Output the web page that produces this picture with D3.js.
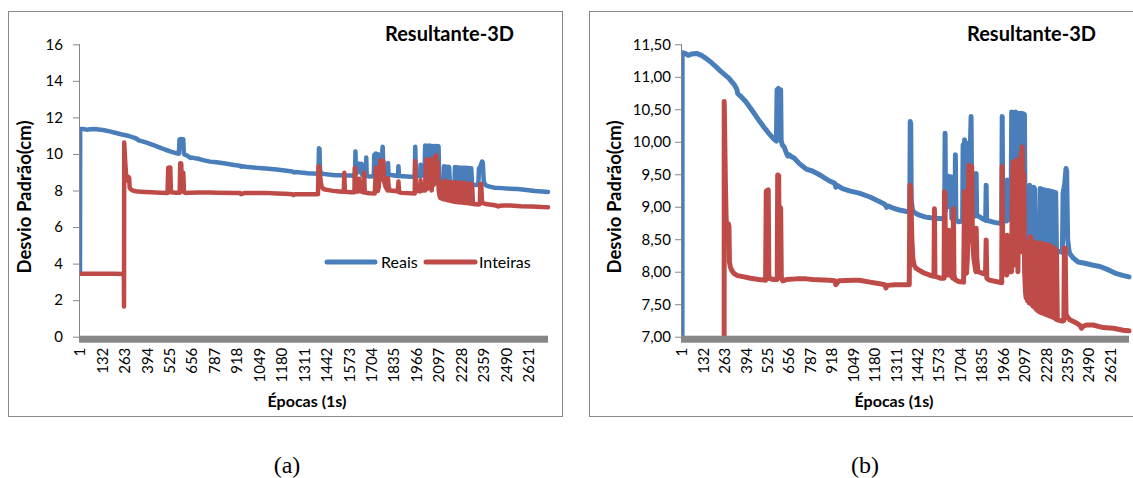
<!DOCTYPE html>
<html>
<head>
<meta charset="utf-8">
<script src="https://cdn.jsdelivr.net/npm/d3@7"></script>
<style>
  html, body { margin: 0; padding: 0; background: #fff; overflow: hidden; }
  svg text { font-family: Lato, "Open Sans", sans-serif; fill: #000; }
</style>
</head>
<body>
<svg id="fig" width="1133" height="478"></svg>
<script>
// Epoch labels shown along the category axis
const xTickLabels = [1, 132, 263, 394, 525, 656, 787, 918, 1049, 1180, 1311, 1442,
                     1573, 1704, 1835, 1966, 2097, 2228, 2359, 2490, 2621];
const lastEpoch = 2733;

// Y-axis ticks for the full view and the zoomed view
const yTicksA = [0, 2, 4, 6, 8, 10, 12, 14, 16];
const yTicksB = [7, 7.5, 8, 8.5, 9, 9.5, 10, 10.5, 11, 11.5];

const seriesNames = ["Reais", "Inteiras"];
const seriesColors = ["#4A7EBB", "#BE4B48"];

// Standard deviation (cm) per epoch: [epoch, value]
const reais = [
  [1,3.45],[2,11.37],[20,11.36],[40,11.33],[60,11.35],[90,11.36],[120,11.33],[150,11.28],
  [180,11.22],[206,11.16],[240,11.08],[287,10.98],[320,10.88],[336,10.81],[342,10.74],[360,10.70],
  [390,10.62],[430,10.48],[471,10.33],[500,10.23],[532,10.13],[560,10.05],[578,10.01],[582,10.80],
  [590,10.82],[598,10.78],[604,10.80],[607,10.02],[614,9.95],[625,9.92],[640,9.82],[648,9.78],
  [655,9.80],[670,9.77],[686,9.75],[720,9.66],[760,9.58],[798,9.55],[850,9.48],[900,9.40],
  [935,9.36],[941,9.30],[950,9.33],[982,9.28],[1030,9.24],[1084,9.21],[1150,9.15],[1207,9.08],
  [1240,9.04],[1252,8.99],[1262,9.01],[1290,8.98],[1329,8.95],[1390,8.92],[1393,8.93],[1396,10.31],
  [1399,10.28],[1402,9.10],[1410,8.95],[1420,8.91],[1452,8.87],[1490,8.84],[1520,8.83],[1545,8.82],
  [1580,8.82],[1606,8.81],[1609,10.13],[1612,8.95],[1616,9.46],[1624,9.00],[1630,9.47],[1638,9.00],
  [1645,9.46],[1650,8.82],[1670,8.80],[1672,9.80],[1675,8.80],[1690,8.77],[1716,8.78],[1719,9.95],
  [1724,9.10],[1728,10.03],[1733,9.30],[1740,9.98],[1746,9.20],[1752,9.70],[1758,9.30],[1765,10.10],
  [1768,10.39],[1772,9.00],[1776,8.88],[1797,8.86],[1799,9.51],[1802,8.87],[1835,8.82],[1857,8.79],
  [1860,9.33],[1863,8.79],[1910,8.76],[1955,8.74],[1958,10.39],[1962,8.80],[1986,8.78],[1989,9.41],
  [1992,8.80],[2012,8.82],[2016,10.46],[2022,9.00],[2028,10.45],[2034,9.00],[2040,10.46],[2046,9.10],
  [2052,10.44],[2058,9.00],[2064,10.44],[2070,9.10],[2076,10.44],[2082,9.00],[2088,10.43],[2094,10.42],
  [2098,8.60],[2104,8.48],[2120,8.42],[2123,8.45],[2126,9.33],[2131,8.45],[2138,9.30],[2144,8.45],
  [2150,9.30],[2156,9.28],[2160,8.42],[2187,8.38],[2190,9.28],[2196,8.40],[2202,9.27],[2208,8.38],
  [2214,9.26],[2220,8.36],[2228,9.25],[2234,8.36],[2240,9.25],[2246,8.35],[2252,9.24],[2259,9.24],
  [2264,8.34],[2270,9.23],[2276,8.33],[2285,9.22],[2290,8.32],[2326,8.30],[2330,9.21],[2340,9.35],
  [2348,9.59],[2352,9.55],[2358,8.50],[2366,8.33],[2371,8.28],[2392,8.21],[2422,8.15],[2463,8.13],
  [2514,8.10],[2555,8.08],[2596,8.04],[2657,7.97],[2700,7.94],[2733,7.92]
];

const inteiras = [
  [1,3.45],[100,3.45],[200,3.44],[257,3.43],[258,1.65],[259,10.62],[262,10.10],[266,9.40],
  [270,8.90],[275,8.55],[280,8.60],[284,8.74],[288,8.70],[291,8.15],[296,8.08],[305,8.02],
  [320,7.97],[340,7.94],[380,7.92],[420,7.90],[470,7.88],[512,7.87],[516,9.24],[528,9.26],
  [532,7.90],[560,7.88],[583,7.88],[586,9.49],[592,9.48],[596,7.95],[600,8.99],[604,8.98],
  [608,7.92],[616,7.86],[640,7.88],[700,7.89],[760,7.89],[800,7.88],[900,7.87],[935,7.86],
  [941,7.80],[950,7.83],[960,7.86],[1050,7.87],[1084,7.87],[1150,7.84],[1200,7.82],[1240,7.80],
  [1248,7.75],[1256,7.79],[1300,7.80],[1390,7.80],[1394,9.33],[1398,9.30],[1402,8.90],[1406,8.50],
  [1412,8.20],[1420,8.10],[1432,8.05],[1452,8.02],[1480,7.98],[1513,7.95],[1541,7.93],[1544,8.97],
  [1547,7.93],[1580,7.90],[1603,7.90],[1605,9.23],[1608,9.20],[1612,7.95],[1628,7.95],[1631,8.64],
  [1636,8.10],[1642,7.95],[1657,7.90],[1660,8.97],[1663,7.95],[1670,7.88],[1690,7.85],[1722,7.84],
  [1725,8.50],[1728,9.23],[1732,8.00],[1740,7.98],[1745,8.20],[1754,9.64],[1760,8.60],[1766,9.10],
  [1772,9.62],[1776,8.50],[1785,8.20],[1797,8.00],[1799,8.67],[1803,8.20],[1810,8.00],[1856,7.96],
  [1860,8.49],[1864,7.90],[1880,7.87],[1955,7.83],[1958,9.62],[1962,8.00],[1986,7.95],[1989,8.56],
  [1993,8.00],[2015,8.00],[2020,9.30],[2024,9.69],[2030,8.10],[2036,9.65],[2042,8.20],[2048,9.72],
  [2054,8.00],[2060,9.70],[2066,8.30],[2072,9.80],[2078,9.85],[2081,9.92],[2086,8.40],[2090,9.50],
  [2095,8.00],[2100,7.70],[2104,7.60],[2108,8.30],[2113,7.55],[2118,8.45],[2123,7.52],[2128,8.50],
  [2132,8.54],[2136,7.50],[2141,8.46],[2146,7.47],[2151,8.46],[2156,7.45],[2161,8.45],[2166,7.42],
  [2171,8.44],[2176,7.40],[2181,8.44],[2186,7.38],[2191,8.44],[2196,7.37],[2201,8.43],[2206,7.36],
  [2211,8.43],[2216,7.35],[2221,8.42],[2226,7.34],[2231,8.41],[2236,7.33],[2241,8.41],[2246,7.32],
  [2251,8.40],[2256,7.31],[2261,8.39],[2266,7.30],[2271,8.37],[2276,7.29],[2281,8.35],[2286,7.27],
  [2290,8.33],[2295,7.26],[2325,7.24],[2335,7.25],[2338,8.36],[2343,8.36],[2348,7.35],[2355,7.31],
  [2371,7.26],[2412,7.21],[2435,7.17],[2443,7.13],[2452,7.16],[2473,7.18],[2514,7.18],[2575,7.14],
  [2637,7.13],[2698,7.10],[2733,7.09]
];

const seriesData = [reais, inteiras];

const svg = d3.select("#fig");
const axisGrey = "#878787";

function drawPanel(p) {
  const g = svg.append("g");

  // chart-area border
  g.append("rect")
    .attr("x", p.frame.x + 0.5).attr("y", p.frame.y + 0.5)
    .attr("width", p.frame.w).attr("height", p.frame.h)
    .attr("fill", "#fff").attr("stroke", "#8a8a8a").attr("stroke-width", 1);

  const x = d3.scaleLinear().domain([1, lastEpoch]).range([p.left, p.right]);
  const y = d3.scaleLinear().domain(p.yDomain).range([p.bottom, p.top]);

  // y axis
  const yAxis = d3.axisLeft(y).tickValues(p.yTicks).tickSize(7).tickPadding(p.tickPad)
    .tickFormat(p.fmt);
  const ya = g.append("g").attr("transform", `translate(${p.left},0)`).call(yAxis);
  ya.select(".domain").attr("stroke", axisGrey).attr("d", `M-0.5,${p.top}V${p.bottom}`);
  ya.selectAll(".tick line").attr("stroke", axisGrey);
  ya.selectAll("text").style("font-size", p.tickFont + "px").attr("fill", "#000")
    .style("font-family", "Lato, sans-serif");

  // series lines, clipped to the plot area
  const clipId = "clip-" + p.id;
  g.append("clipPath").attr("id", clipId).append("rect")
    .attr("x", p.left).attr("y", p.top - 10)
    .attr("width", p.right - p.left + 4).attr("height", p.bottom - p.top + 10);
  const line = d3.line().x(d => x(d[0])).y(d => y(d[1]));
  const lg = g.append("g").attr("clip-path", `url(#${clipId})`);
  seriesData.forEach((s, i) => {
    lg.append("path").datum(s)
      .attr("d", line)
      .attr("fill", "none")
      .attr("stroke", seriesColors[i])
      .attr("stroke-width", p.lineW)
      .attr("stroke-linejoin", "round")
      .attr("stroke-linecap", "round");
  });

  // category axis: thick grey bar
  g.append("rect")
    .attr("x", p.left - 1).attr("y", p.bottom - 1)
    .attr("width", p.right - p.left + 1).attr("height", 7)
    .attr("fill", axisGrey);

  // epoch labels, rotated
  g.append("g").selectAll("text").data(xTickLabels).join("text")
    .attr("transform", d => `translate(${x(d)},${p.bottom + 11}) rotate(-90)`)
    .attr("text-anchor", "end")
    .attr("dy", "0.35em")
    .style("font-size", p.tickFont + "px")
    .text(d => d);

  // axis titles
  g.append("text")
    .attr("transform", `translate(${p.yTitleX},${p.yTitleY}) rotate(-90)`)
    .attr("text-anchor", "middle").attr("dy", "0.35em")
    .style("font-size", "18.5px").style("font-weight", "bold")
    .text("Desvio Padrão(cm)");
  g.append("text")
    .attr("x", p.xTitleX).attr("y", 407)
    .attr("text-anchor", "middle")
    .style("font-size", "16px").style("font-weight", "bold")
    .text("Épocas (1s)");

  // chart title
  g.append("text")
    .attr("x", p.titleX).attr("y", 41)
    .style("font-size", "20px").style("font-weight", "bold")
    .text("Resultante-3D");

  // legend
  if (p.legend) {
    const items = [
      { x1: 327, x2: 375, tx: 381 },
      { x1: 426, x2: 475, tx: 479 }
    ];
    items.forEach((it, i) => {
      g.append("line")
        .attr("x1", it.x1).attr("x2", it.x2).attr("y1", 262).attr("y2", 262)
        .attr("stroke", seriesColors[i]).attr("stroke-width", 5)
        .attr("stroke-linecap", "round");
      g.append("text")
        .attr("x", it.tx).attr("y", 262).attr("dy", "0.35em")
        .style("font-size", "16px")
        .text(seriesNames[i]);
    });
  }

  // panel caption
  svg.append("text")
    .attr("x", p.capX).attr("y", 473)
    .attr("text-anchor", "middle")
    .style("font-family", "'Liberation Serif', 'DejaVu Serif', serif")
    .style("font-size", "24px")
    .text(p.caption);
}

const fmtComma = d => d3.format(".2f")(d).replace(".", ",");

drawPanel({
  id: "a", frame: { x: 8, y: 11, w: 554, h: 405 },
  left: 80, right: 548, top: 44.3, bottom: 336.7,
  yDomain: [0, 16], yTicks: yTicksA, fmt: d => d, tickPad: 10, tickFont: 15,
  lineW: 4.5, yTitleX: 25, yTitleY: 197, xTitleX: 307, titleX: 385,
  legend: true, caption: "(a)", capX: 287
});

drawPanel({
  id: "b", frame: { x: 589, y: 11, w: 560, h: 405 },
  left: 682, right: 1129, top: 44.3, bottom: 336.7,
  yDomain: [7, 11.5], yTicks: yTicksB, fmt: fmtComma, tickPad: 4, tickFont: 15,
  lineW: 5, yTitleX: 615, yTitleY: 197, xTitleX: 894, titleX: 967,
  legend: false, caption: "(b)", capX: 865
});
</script>
</body>
</html>
